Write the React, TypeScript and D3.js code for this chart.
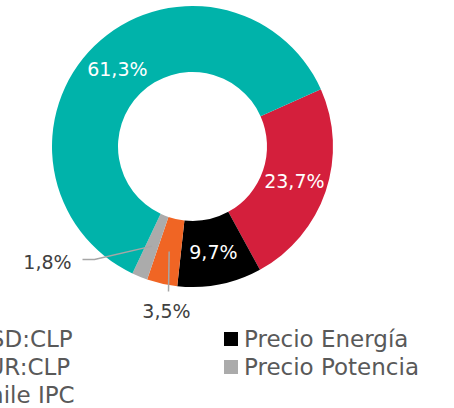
import React, { useEffect, useRef } from "react";
import * as d3 from "d3";

// legend order (column-wise)
const categories = ["USD:CLP", "EUR:CLP", "Chile IPC", "Precio Energía", "Precio Potencia"];
const shares = [61.3, 23.7, 3.5, 9.7, 1.8];
const colors = ["#00B3AA", "#D41F3C", "#F06524", "#000000", "#ABABAB"];
// clockwise order of the slices in the ring
const sliceOrder = ["EUR:CLP", "Precio Energía", "Chile IPC", "Precio Potencia", "USD:CLP"];
const labelText = (v: number) => v.toFixed(1).replace(".", ",") + "%";

const width = 454;
const height = 408;

export default function App() {
  const ref = useRef<SVGSVGElement>(null);

  useEffect(() => {
    const svg = d3.select(ref.current);
    svg.selectAll("*").remove();
    svg.attr("font-family", "'DejaVu Sans', sans-serif");

    const cx = 192.5;
    const cy = 146.5;
    const outer = 140.5;
    const inner = 74.5;

    const color = d3.scaleOrdinal<string, string>().domain(categories).range(colors);

    const rows = sliceOrder.map((c) => ({ name: c, value: shares[categories.indexOf(c)] }));

    const pie = d3
      .pie<{ name: string; value: number }>()
      .sort(null)
      .value((d) => d.value)
      .startAngle((66 * Math.PI) / 180)
      .endAngle((66 * Math.PI) / 180 + 2 * Math.PI);

    const arc = d3
      .arc<d3.PieArcDatum<{ name: string; value: number }>>()
      .innerRadius(inner)
      .outerRadius(outer);

    const g = svg.append("g").attr("transform", `translate(${cx},${cy})`);
    const arcs = pie(rows);

    g.selectAll("path")
      .data(arcs)
      .join("path")
      .attr("d", arc)
      .attr("fill", (d) => color(d.data.name));

    // labels inside the big slices
    g.selectAll("text.inside")
      .data(arcs.filter((d) => d.data.value > 5))
      .join("text")
      .attr("class", "inside")
      .attr("transform", (d) => `translate(${arc.centroid(d)})`)
      .attr("text-anchor", "middle")
      .attr("dy", "0.36em")
      .attr("fill", "#fff")
      .attr("font-size", 19)
      .text((d) => labelText(d.data.value));

    // small slices get labels outside with leader lines
    const outside: Record<string, { tx: number; ty: number; anchor: string; pts: [number, number][] }> = {
      "Precio Potencia": { tx: -145, ty: 122, anchor: "middle", pts: [[-110, 113], [-98, 113]] },
      "Chile IPC": { tx: -26, ty: 171, anchor: "middle", pts: [[-24, 145]] },
    };
    arcs
      .filter((d) => d.data.value <= 5)
      .forEach((d) => {
        const o = outside[d.data.name];
        const c = arc.centroid(d);
        const line = d3.line();
        g.append("path")
          .attr("d", line([...o.pts, c as [number, number]]))
          .attr("fill", "none")
          .attr("stroke", "#A6A6A6")
          .attr("stroke-width", 1.5);
        g.append("text")
          .attr("x", o.tx)
          .attr("y", o.ty)
          .attr("text-anchor", o.anchor)
          .attr("fill", "#404040")
          .attr("font-size", 19)
          .text(labelText(d.data.value));
      });

    // legend
    const legend = svg.append("g");
    const item = legend
      .selectAll("g")
      .data(categories)
      .join("g")
      .attr("transform", (d, i) => `translate(${-47 + Math.floor(i / 3) * 271},${347 + (i % 3) * 28})`);
    item
      .append("rect")
      .attr("x", 0)
      .attr("y", -15)
      .attr("width", 14)
      .attr("height", 14)
      .attr("fill", (d) => color(d));
    item
      .append("text")
      .attr("x", 20)
      .attr("y", 0)
      .attr("fill", "#595959")
      .attr("font-size", 23)
      .text((d) => d);
  }, []);

  return (
    <div style={{ position: "absolute", left: 0, top: 0, width, height, overflow: "hidden", background: "#fff" }}>
      <svg ref={ref} width={width} height={height}></svg>
    </div>
  );
}
